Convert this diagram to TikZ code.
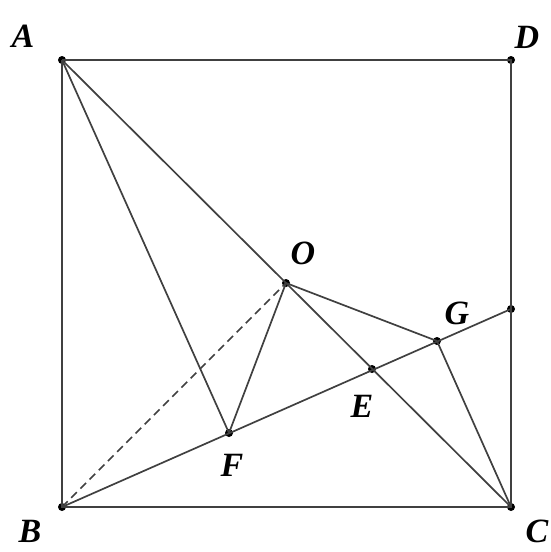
\documentclass[tikz,border=0pt]{standalone}
\usepackage{fontspec}
\setmainfont{Liberation Serif}
\begin{document}
\begin{tikzpicture}[x=1pt,y=-1pt,
  seg/.style={line width=1.7pt,draw=black!75},
  dot/.style={circle,fill=black,inner sep=0pt,minimum size=8pt},
  lbl/.style={font=\fontsize{34}{34}\selectfont\bfseries\itshape,inner sep=0pt}]
\useasboundingbox (0,0) rectangle (550,552);
\node[dot] (A) at (62,60) {};
\node[dot] (D) at (511,60) {};
\node[dot] (B) at (62,507) {};
\node[dot] (C) at (511,507) {};
\node[dot] (O) at (286,283) {};
\node[dot] (G) at (437,341) {};
\node[dot] (E) at (372,369) {};
\node[dot] (F) at (229,433) {};
\node[dot] (H) at (511,309) {};
\draw[seg] (A.center) -- (D.center) -- (C.center) -- (B.center) -- (A.center);
\draw[seg] (A.center) -- (C.center);
\draw[seg] (A.center) -- (F.center);
\draw[seg] (B.center) -- (H.center);
\draw[seg] (O.center) -- (F.center);
\draw[seg] (O.center) -- (G.center);
\draw[seg] (G.center) -- (C.center);
\draw[seg,dashed,dash pattern=on 8pt off 5pt] (B.center) -- (O.center);
\node[lbl] (lA) at (23,36) {A};
\node[lbl] (lD) at (527,37) {D};
\node[lbl] (lB) at (30,531) {B};
\node[lbl] (lC) at (537,531) {C};
\node[lbl] (lO) at (303,253) {O};
\node[lbl] (lG) at (457,313) {G};
\node[lbl] (lE) at (362,406) {E};
\node[lbl] (lF) at (232,465) {F};
\end{tikzpicture}
\end{document}
